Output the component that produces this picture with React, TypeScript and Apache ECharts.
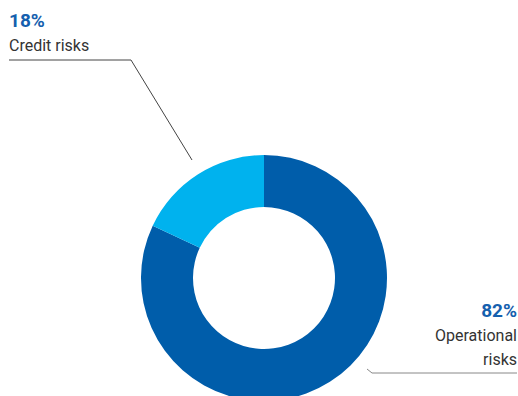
import React, { useEffect, useRef } from "react";
import * as echarts from "echarts";

const categories = ["Operational risks", "Credit risks"];
const shares = [82, 18];
const colors = ["#005DAA", "#00B2EE"];

export default function App() {
  const ref = useRef<HTMLDivElement>(null);
  useEffect(() => {
    document.body.style.margin = "0";
    const chart = echarts.init(ref.current!, null, { renderer: "svg" });
    chart.setOption({
      animation: false,
      backgroundColor: "#ffffff",
      series: [
        {
          type: "pie",
          center: [264, 278],
          radius: [71, 123],
          startAngle: 90,
          clockwise: true,
          data: categories.map((name, i) => ({
            name,
            value: shares[i],
            itemStyle: { color: colors[i] },
            label: { align: i === 0 ? "right" : "left" },
            labelLine: { lineStyle: { color: i === 0 ? "#888888" : "#444444", width: 1 } },
          })),
          label: {
            show: true,
            fontFamily: "Roboto",
            formatter: (p: any) =>
              `{p|${p.value}%}\n{n|${p.dataIndex === 0 ? p.name.replace(" ", "\n") : p.name}}`,
            rich: {
              p: { fontFamily: "Roboto", fontSize: 19, fontWeight: "bold", color: "#1560AE", lineHeight: 26 },
              n: { fontFamily: "Roboto", fontSize: 16, color: "#333333", lineHeight: 24 },
            },
          },
          labelLine: { show: true },
          labelLayout: (params: any) => {
            if (params.dataIndex === 0) {
              return {
                x: 517,
                y: 297,
                align: "right",
                verticalAlign: "top",
                labelLinePoints: [
                  [367, 369],
                  [372, 373],
                  [517, 373],
                ],
              };
            }
            return {
              x: 9,
              y: 7,
              align: "left",
              verticalAlign: "top",
              labelLinePoints: [
                [192, 160],
                [131, 60],
                [9, 60],
              ],
            };
          },
        },
      ],
    });
    return () => chart.dispose();
  }, []);
  return (
    <div
      ref={ref}
      style={{ position: "absolute", left: 0, top: 0, width: 518, height: 396 }}
    />
  );
}
